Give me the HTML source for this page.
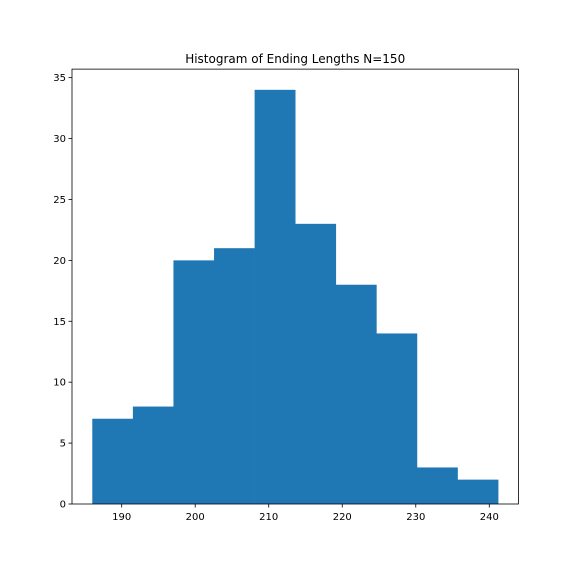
<!DOCTYPE html>
<html><head><meta charset="utf-8"><style>
html,body{margin:0;padding:0;background:#fff;}
svg{display:block;font-family:"DejaVu Sans","Liberation Sans",sans-serif;}
</style></head><body>
<svg id="chart" width="576" height="576" viewBox="0 0 576 576">
<rect x="0" y="0" width="576" height="576" fill="#fff"/>
<g id="bars"></g>
<g id="xt"></g>
<g id="yt"></g>
<rect x="72" y="69.12" width="446.4" height="434.88" fill="none" stroke="#000" stroke-width="0.8"/>
<text x="295.2" y="63" text-anchor="middle" font-size="12" fill="#000">Histogram of Ending Lengths N=150</text>
</svg>
<script>
const counts = [7, 8, 20, 21, 34, 23, 18, 14, 3, 2];
const binRange = [186.0, 241.2];
const xTicks = [190, 200, 210, 220, 230, 240];
const yTicks = [0, 5, 10, 15, 20, 25, 30, 35];

const L = 72, R = 518.4, T = 69.12, B = 504;
const span = binRange[1] - binRange[0];
const xmin = binRange[0] - span * 0.05, xmax = binRange[1] + span * 0.05;
const ymax = Math.max(...counts) * 1.05;
const xs = v => L + (v - xmin) / (xmax - xmin) * (R - L);
const ys = v => B - v / ymax * (B - T);
const NS = "http://www.w3.org/2000/svg";
function mk(tag, attrs, parent) {
  const e = document.createElementNS(NS, tag);
  for (const k in attrs) e.setAttribute(k, attrs[k]);
  parent.appendChild(e);
  return e;
}
const bars = document.getElementById('bars');
const w = span / counts.length;
counts.forEach((c, i) => {
  const x0 = xs(binRange[0] + i * w), x1 = xs(binRange[0] + (i + 1) * w);
  const r = mk('rect', {x: x0, y: ys(c), width: x1 - x0 + 0.3, height: B - ys(c), fill: '#1f77b4'}, bars);
  
  
});
const xt = document.getElementById('xt');
xTicks.forEach(t => {
  const x = xs(t);
  const l = mk('line', {x1: x, x2: x, y1: B, y2: B + 3.5, stroke: '#000', 'stroke-width': 0.8}, xt);
  
  
  const tx = mk('text', {x: x, y: B + 16, 'text-anchor': 'middle', 'font-size': 10, fill: '#000'}, xt);
  tx.textContent = t;
  
  
});
const yt = document.getElementById('yt');
yTicks.forEach(t => {
  const y = ys(t);
  const l = mk('line', {x1: L - 3.5, x2: L, y1: y, y2: y, stroke: '#000', 'stroke-width': 0.8}, yt);
  
  
  const tx = mk('text', {x: L - 6, y: y + 3.5, 'text-anchor': 'end', 'font-size': 10, fill: '#000'}, yt);
  tx.textContent = t;
  
  
});
</script>
</body></html>
